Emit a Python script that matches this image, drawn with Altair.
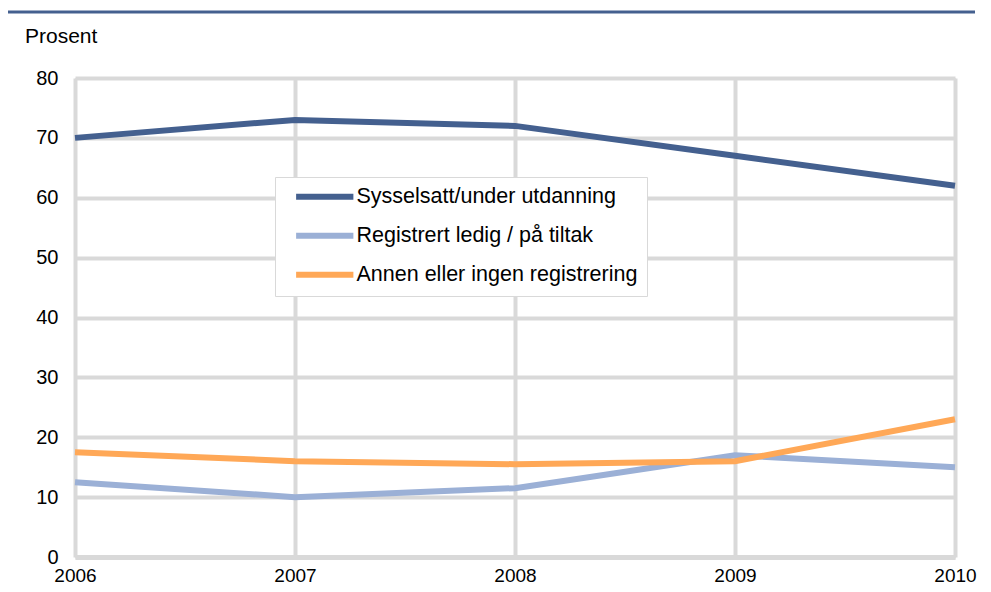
import altair as alt
import pandas as pd

years = [2006, 2007, 2008, 2009, 2010]
series_names = ["Sysselsatt/under utdanning", "Registrert ledig / på tiltak", "Annen eller ingen registrering"]
sysselsatt = [70, 73, 72, 67, 62]
registrert = [12.5, 10, 11.5, 17, 15]
annen = [17.5, 16, 15.5, 16, 23]
colors = ["#44608f", "#9bb0d6", "#ffa857"]

rows = []
for name, vals in zip(series_names, [sysselsatt, registrert, annen]):
    for y, v in zip(years, vals):
        rows.append({"year": y, "value": v, "series": name})
df = pd.DataFrame(rows)

FONT = "Liberation Sans"

lines = alt.Chart(df).mark_line(strokeWidth=6, strokeCap="butt", strokeJoin="miter").encode(
    x=alt.X("year:Q", scale=alt.Scale(domain=[2006, 2010], nice=False, zero=False),
            axis=alt.Axis(values=years, format="d", title=None, grid=True, gridColor="#d9d9d9",
                          gridWidth=4, ticks=False, domain=True, domainColor="#d9d9d9",
                          domainWidth=5, labelFontSize=19, labelFont=FONT, labelColor="#000000",
                          labelPadding=9, labelFlush=False)),
    y=alt.Y("value:Q", scale=alt.Scale(domain=[0, 80], nice=False),
            axis=alt.Axis(values=list(range(0, 81, 10)), title=None, grid=True, gridColor="#d9d9d9",
                          gridWidth=4, ticks=False, domain=False, labelFontSize=20, labelFont=FONT,
                          labelColor="#000000", labelPadding=17)),
    color=alt.Color("series:N", scale=alt.Scale(domain=series_names, range=colors),
                    legend=alt.Legend(title=None, orient="none", legendX=200, legendY=99,
                                      symbolType="M-4,0H4", symbolSize=205, symbolStrokeWidth=6,
                                      symbolOffset=30,
                                      labelFontSize=21.5, labelFont=FONT, labelColor="#000000",
                                      labelOffset=21, rowPadding=14, padding=9,
                                      labelExpr="datum.label + '\u00a0\u00a0\u00a0\u00a0'",
                                      strokeColor="#d9d9d9", fillColor="#ffffff",
                                      labelLimit=500)),
    order=alt.Order("year:Q"),
)

top_rule = alt.Chart(pd.DataFrame({"a": [0]})).mark_rule(color="#44608f", strokeWidth=3).encode(
    x=alt.value(-80), x2=alt.value(900), y=alt.value(-66)
)

ylabel = alt.Chart(pd.DataFrame({"t": ["Prosent"]})).mark_text(
    align="left", baseline="middle", fontSize=21, font=FONT, color="#000000"
).encode(x=alt.value(-50), y=alt.value(-41), text="t:N")

chart = alt.layer(lines, top_rule, ylabel).properties(
    width=880, height=479,
    autosize=alt.AutoSizeParams(type="none"),
    padding={"left": 67, "top": 70, "right": 28, "bottom": 27},
).configure_view(stroke=None).configure(background="#ffffff")

chart.save("out.html", embed_options={"renderer": "svg", "actions": False})
